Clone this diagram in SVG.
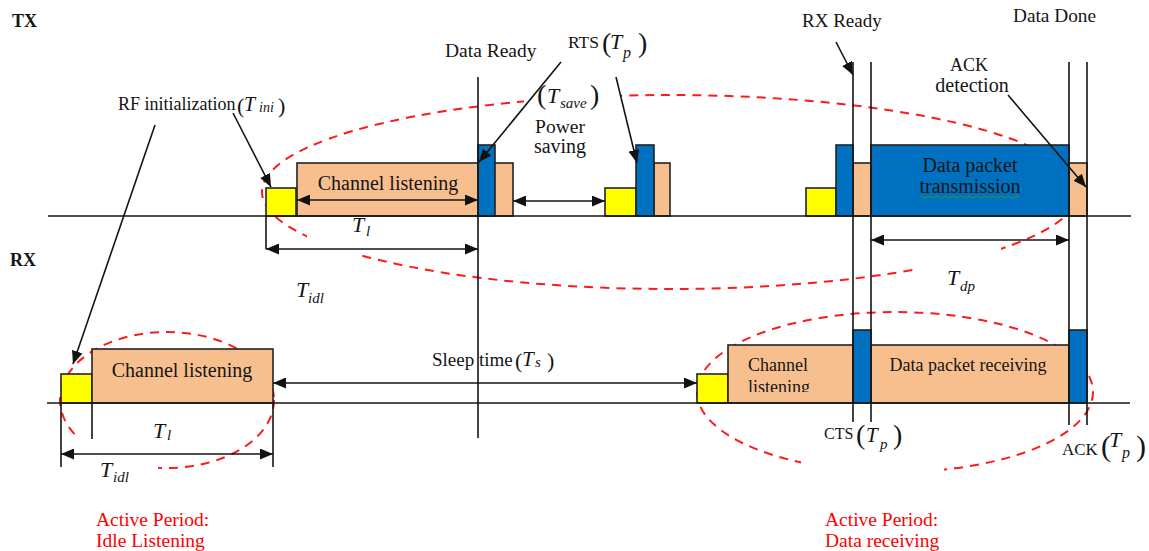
<svg xmlns="http://www.w3.org/2000/svg" width="1149" height="551" viewBox="0 0 1149 551">
<defs>
<style>
text { font-family: "Liberation Serif", "Times New Roman", serif; fill: #151515; }
.it { font-style: italic; }
.bold { font-weight: bold; }
.red { fill: #ff0000; }
.ln { stroke: #151515; stroke-width: 1.6; fill: none; }
.ar { marker-end: url(#ah); }
.dar { marker-start: url(#ah); marker-end: url(#ah); }
.ell { fill: none; stroke: #ff1a1a; stroke-width: 2; stroke-dasharray: 9 7; }
.y { fill: #ffff00; stroke: #222; stroke-width: 1.6; }
.o { fill: #f8bf8e; stroke: #222; stroke-width: 1.6; }
.b { fill: #0070c0; stroke: #222; stroke-width: 1.6; }
.mask { fill: #ffffff; }
.wave { fill: none; stroke: #2e9a3a; stroke-width: 1; }
</style>
<marker id="ah" viewBox="0 0 13 11" refX="13" refY="5.5" markerWidth="13" markerHeight="11" markerUnits="userSpaceOnUse" orient="auto-start-reverse">
<path d="M0,0 L13,5.5 L0,11 z" fill="#111"/>
</marker>
<clipPath id="clipRxListen"><rect x="735" y="340" width="115" height="52"/></clipPath>
</defs>

<rect x="0" y="0" width="1149" height="551" fill="#ffffff"/>

<g id="periods">
<ellipse class="ell" cx="670" cy="192" rx="408" ry="97"/>
<ellipse class="ell" cx="167" cy="400" rx="107" ry="68"/>
<ellipse class="ell" cx="895" cy="392" rx="198" ry="80"/>
<rect class="mask" x="524" y="86" width="97" height="24"/>
<rect class="mask" x="307" y="226" width="54" height="36"/>
<rect class="mask" x="918" y="244" width="83" height="32"/>
<rect class="mask" x="79" y="432" width="79" height="42"/>
<rect class="mask" x="801" y="452" width="143" height="26"/>
</g>

<g id="tx-axis-label"><text class="bold" x="12" y="27" font-size="18">TX</text></g>
<g id="rx-axis-label"><text class="bold" x="10" y="266" font-size="18">RX</text></g>

<g id="tx-rf-init-1"><rect class="y" x="266" y="188" width="30" height="28"/></g>
<g id="tx-channel-listening">
<rect class="o" x="297" y="163" width="216" height="53"/>
<text x="388" y="190" font-size="20" text-anchor="middle">Channel listening</text>
</g>
<g id="tx-rts-1"><rect class="b" x="478" y="145" width="17" height="71"/></g>
<g id="tx-rf-init-2"><rect class="y" x="605" y="188" width="31" height="28"/></g>
<g id="tx-rts-2">
<rect class="o" x="654" y="163" width="16" height="53"/>
<rect class="b" x="636" y="145" width="18" height="71"/>
</g>
<g id="tx-rf-init-3"><rect class="y" x="806" y="188" width="30" height="28"/></g>
<g id="tx-rts-3"><rect class="b" x="836" y="145" width="17" height="71"/></g>
<g id="tx-cts-listen"><rect class="o" x="853" y="163" width="18" height="53"/></g>
<g id="tx-data-packet">
<rect class="b" x="871" y="145" width="198" height="71"/>
<text x="970" y="172" font-size="20" text-anchor="middle">Data packet</text>
<text x="970" y="193" font-size="20" text-anchor="middle">transmission</text>
<path class="wave" d="M919,197 q2,-2.2 4,0 t4,0 t4,0 t4,0 t4,0 t4,0 t4,0 t4,0 t4,0 t4,0 t4,0 t4,0 t4,0 t4,0 t4,0 t4,0 t4,0 t4,0 t4,0 t4,0 t4,0 t4,0 t4,0 t4,0 t4,0"/>
</g>
<g id="tx-ack-detection"><rect class="o" x="1069" y="163" width="18" height="53"/></g>

<g id="rx-rf-init-1"><rect class="y" x="61" y="374" width="31" height="29"/></g>
<g id="rx-channel-listening-1">
<rect class="o" x="92" y="349" width="181" height="54"/>
<text x="182" y="377" font-size="20" text-anchor="middle">Channel listening</text>
</g>
<g id="rx-rf-init-2"><rect class="y" x="697" y="374" width="31" height="29"/></g>
<g id="rx-channel-listening-2">
<rect class="o" x="728" y="345" width="125" height="58"/>
<g clip-path="url(#clipRxListen)">
<text x="748" y="371" font-size="18">Channel</text>
<text x="748" y="393" font-size="18">listening</text>
</g>
</g>
<g id="rx-cts"><rect class="b" x="853" y="330" width="18" height="73"/></g>
<g id="rx-data-receiving">
<rect class="o" x="871" y="345" width="198" height="58"/>
<text x="968" y="371" font-size="18" text-anchor="middle">Data packet receiving</text>
</g>
<g id="rx-ack"><rect class="b" x="1069" y="330" width="18" height="73"/></g>

<g id="connectors">
<line class="ln" x1="48" y1="216" x2="1131" y2="216"/>
<line class="ln" x1="47" y1="403" x2="1130" y2="403"/>
<line class="ln" x1="478" y1="77" x2="478" y2="438"/>
<line class="ln" x1="853" y1="62" x2="853" y2="422"/>
<line class="ln" x1="871" y1="62" x2="871" y2="422"/>
<line class="ln" x1="1069" y1="62" x2="1069" y2="425"/>
<line class="ln" x1="1087" y1="62" x2="1087" y2="425"/>
<line class="ln" x1="266" y1="216" x2="266" y2="249"/>
<line class="ln" x1="61" y1="403" x2="61" y2="467"/>
<line class="ln" x1="92" y1="403" x2="92" y2="439"/>
<line class="ln" x1="273" y1="403" x2="273" y2="467"/>
<line class="ln dar" x1="297" y1="200" x2="478" y2="200"/>
<line class="ln dar" x1="266" y1="249" x2="478" y2="249"/>
<line class="ln dar" x1="513" y1="201" x2="605" y2="201"/>
<line class="ln dar" x1="871" y1="240" x2="1069" y2="240"/>
<line class="ln dar" x1="273" y1="383" x2="697" y2="383"/>
<line class="ln dar" x1="61" y1="454" x2="273" y2="454"/>
<line class="ln ar" x1="233" y1="113" x2="271" y2="187"/>
<line class="ln ar" x1="155" y1="125" x2="73" y2="364"/>
<line class="ln ar" x1="561" y1="62" x2="479" y2="162"/>
<line class="ln ar" x1="616" y1="77" x2="637" y2="163"/>
<line class="ln ar" x1="836" y1="42" x2="853" y2="75"/>
<line class="ln ar" x1="1008" y1="95" x2="1086" y2="187"/>
</g>

<g id="labels">
<text x="118" y="110" font-size="18">RF initialization</text>
<text x="237" y="113" font-size="22">(</text>
<text class="it" x="244" y="111" font-size="20">T</text>
<text class="it" x="259" y="112" font-size="14">ini</text>
<text x="278" y="113" font-size="22">)</text>

<text x="445" y="57" font-size="19.5">Data Ready</text>

<text x="568" y="48" font-size="17.5">RTS</text>
<text x="602" y="52" font-size="28">(</text>
<text class="it" x="610" y="49" font-size="22">T</text>
<text class="it" x="623" y="58" font-size="16">p</text>
<text x="638" y="52" font-size="28">)</text>

<text x="537" y="104" font-size="28">(</text>
<text class="it" x="547" y="103" font-size="22">T</text>
<text class="it" x="560" y="108" font-size="15">save</text>
<text x="590" y="104" font-size="28">)</text>
<text x="560" y="133" font-size="19.5" text-anchor="middle">Power</text>
<text x="560" y="153" font-size="20" text-anchor="middle">saving</text>

<text x="802" y="27" font-size="19">RX Ready</text>
<text x="1013" y="22" font-size="19.3">Data Done</text>
<text x="969" y="71" font-size="18" text-anchor="middle">ACK</text>
<text x="972" y="92" font-size="20" text-anchor="middle">detection</text>

<text class="it" x="352" y="232" font-size="22">T</text>
<text class="it" x="366" y="236" font-size="15">l</text>
<text class="it" x="296" y="297" font-size="22">T</text>
<text class="it" x="308" y="303" font-size="15">idl</text>
<text class="it" x="947" y="285" font-size="22">T</text>
<text class="it" x="960" y="291" font-size="15">dp</text>

<text x="432" y="366" font-size="19">Sleep time</text>
<text x="515" y="368" font-size="22">(</text>
<text class="it" x="522" y="366" font-size="21">T</text>
<text class="it" x="535" y="367" font-size="15">s</text>
<text x="547" y="368" font-size="22">)</text>

<text class="it" x="153" y="438" font-size="22">T</text>
<text class="it" x="167" y="440" font-size="15">l</text>
<text class="it" x="100" y="477" font-size="22">T</text>
<text class="it" x="113" y="482" font-size="15">idl</text>

<text x="824" y="439" font-size="16">CTS</text>
<text x="856" y="444" font-size="28">(</text>
<text class="it" x="866" y="442" font-size="21">T</text>
<text class="it" x="880" y="449" font-size="15">p</text>
<text x="893" y="444" font-size="28">)</text>

<text x="1062" y="455" font-size="17">ACK</text>
<text x="1101" y="456" font-size="30">(</text>
<text class="it" x="1109" y="447" font-size="22">T</text>
<text class="it" x="1122" y="458" font-size="16">p</text>
<text x="1136" y="456" font-size="30">)</text>

<text class="red" x="96" y="526" font-size="19.5">Active Period:</text>
<text class="red" x="96" y="547" font-size="19.5">Idle Listening</text>
<text class="red" x="825" y="526" font-size="19.5">Active Period:</text>
<text class="red" x="825" y="547" font-size="19.5">Data receiving</text>
</g>
</svg>
